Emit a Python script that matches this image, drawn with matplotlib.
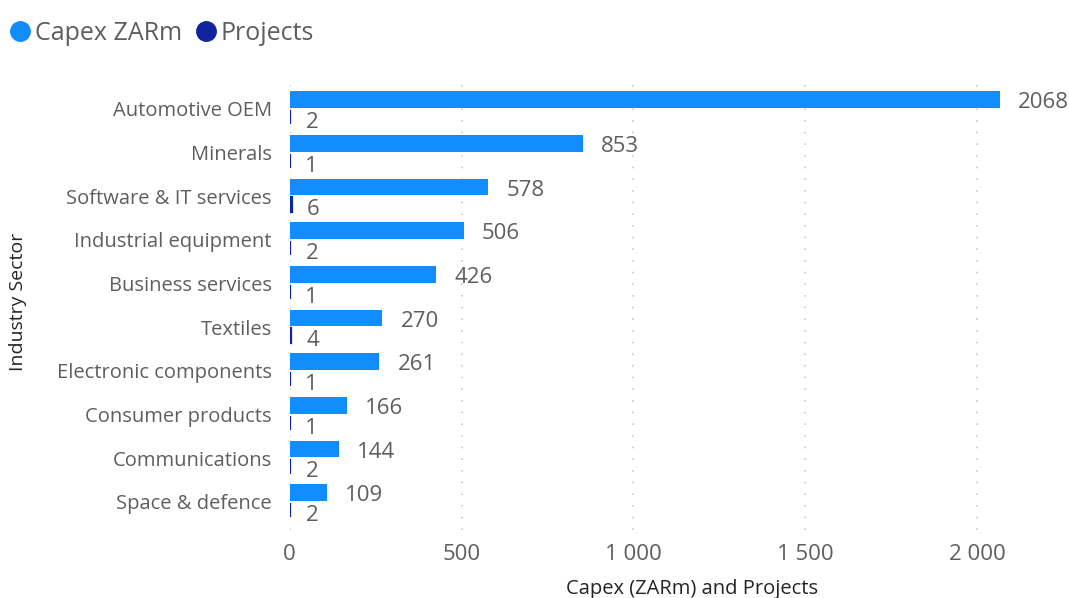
import numpy as np
import matplotlib.pyplot as plt
from matplotlib.lines import Line2D
from matplotlib.ticker import FuncFormatter

plt.rcParams['font.family'] = ['Open Sans', 'DejaVu Sans']

sectors = ['Automotive OEM', 'Minerals', 'Software & IT services', 'Industrial equipment',
           'Business services', 'Textiles', 'Electronic components', 'Consumer products',
           'Communications', 'Space & defence']
capex = [2068, 853, 578, 506, 426, 270, 261, 166, 144, 109]
projects = [2, 1, 6, 2, 1, 4, 1, 1, 2, 2]

capex_color = '#118DFF'
proj_color = '#12239E'
grey = '#605E5C'
dark = '#252423'

fig = plt.figure(figsize=(10.69, 5.98), dpi=100)
ax = fig.add_axes([0.271, 0.114, 0.675, 0.761])

y = np.arange(len(sectors))
h = 0.38
ax.barh(y - 0.21, capex, height=h, color=capex_color, zorder=3)
# tiny project counts still get a visible sliver
ax.barh(y + 0.19, projects, height=h - 0.05, color=proj_color,
        edgecolor=proj_color, linewidth=1.6, zorder=3)

for yi, v in zip(y, capex):
    ax.annotate(str(v), (v, yi - 0.14), xytext=(13, 0), textcoords='offset points',
                va='center', ha='left', fontsize=16, color=grey)
for yi, v in zip(y, projects):
    ax.annotate(str(v), (v, yi + 0.31), xytext=(11, 0), textcoords='offset points',
                va='center', ha='left', fontsize=16, color=grey)

ax.set_xlim(0, 2100)
ax.set_ylim(9.64, -0.78)
ax.set_yticks(y)
ax.set_yticklabels(sectors, fontsize=14.5, color=grey)
ax.set_xticks([0, 500, 1000, 1500, 2000])
ax.xaxis.set_major_formatter(FuncFormatter(lambda v, p: f'{int(v):,}'.replace(',', ' ')))
ax.tick_params(axis='x', labelsize=16, labelcolor=grey, length=0, pad=10)
ax.tick_params(axis='y', length=0, pad=13)
ax.grid(axis='x', color='#C8C8C8', linestyle=(0, (1, 6)), linewidth=1.2, zorder=0)
for s in ax.spines.values():
    s.set_visible(False)

ax.set_xlabel('Capex (ZARm) and Projects', fontsize=14.5, color=dark)
ax.xaxis.set_label_coords(0.558, -0.108)
ax.set_ylabel('Industry Sector', fontsize=14, color=dark)
ax.yaxis.set_label_coords(-0.364, 0.5)

handles = [Line2D([], [], marker='o', linestyle='', markersize=14, color=capex_color),
           Line2D([], [], marker='o', linestyle='', markersize=14, color=proj_color)]
fig.legend(handles, ['Capex ZARm', 'Projects'], loc='upper left', bbox_to_anchor=(-0.013, 1.003),
           ncol=2, frameon=False, fontsize=18, labelcolor=grey, handletextpad=0.15,
           columnspacing=0.5, handlelength=0.9, borderpad=0.4)

fig.savefig('out.png', dpi=100)
